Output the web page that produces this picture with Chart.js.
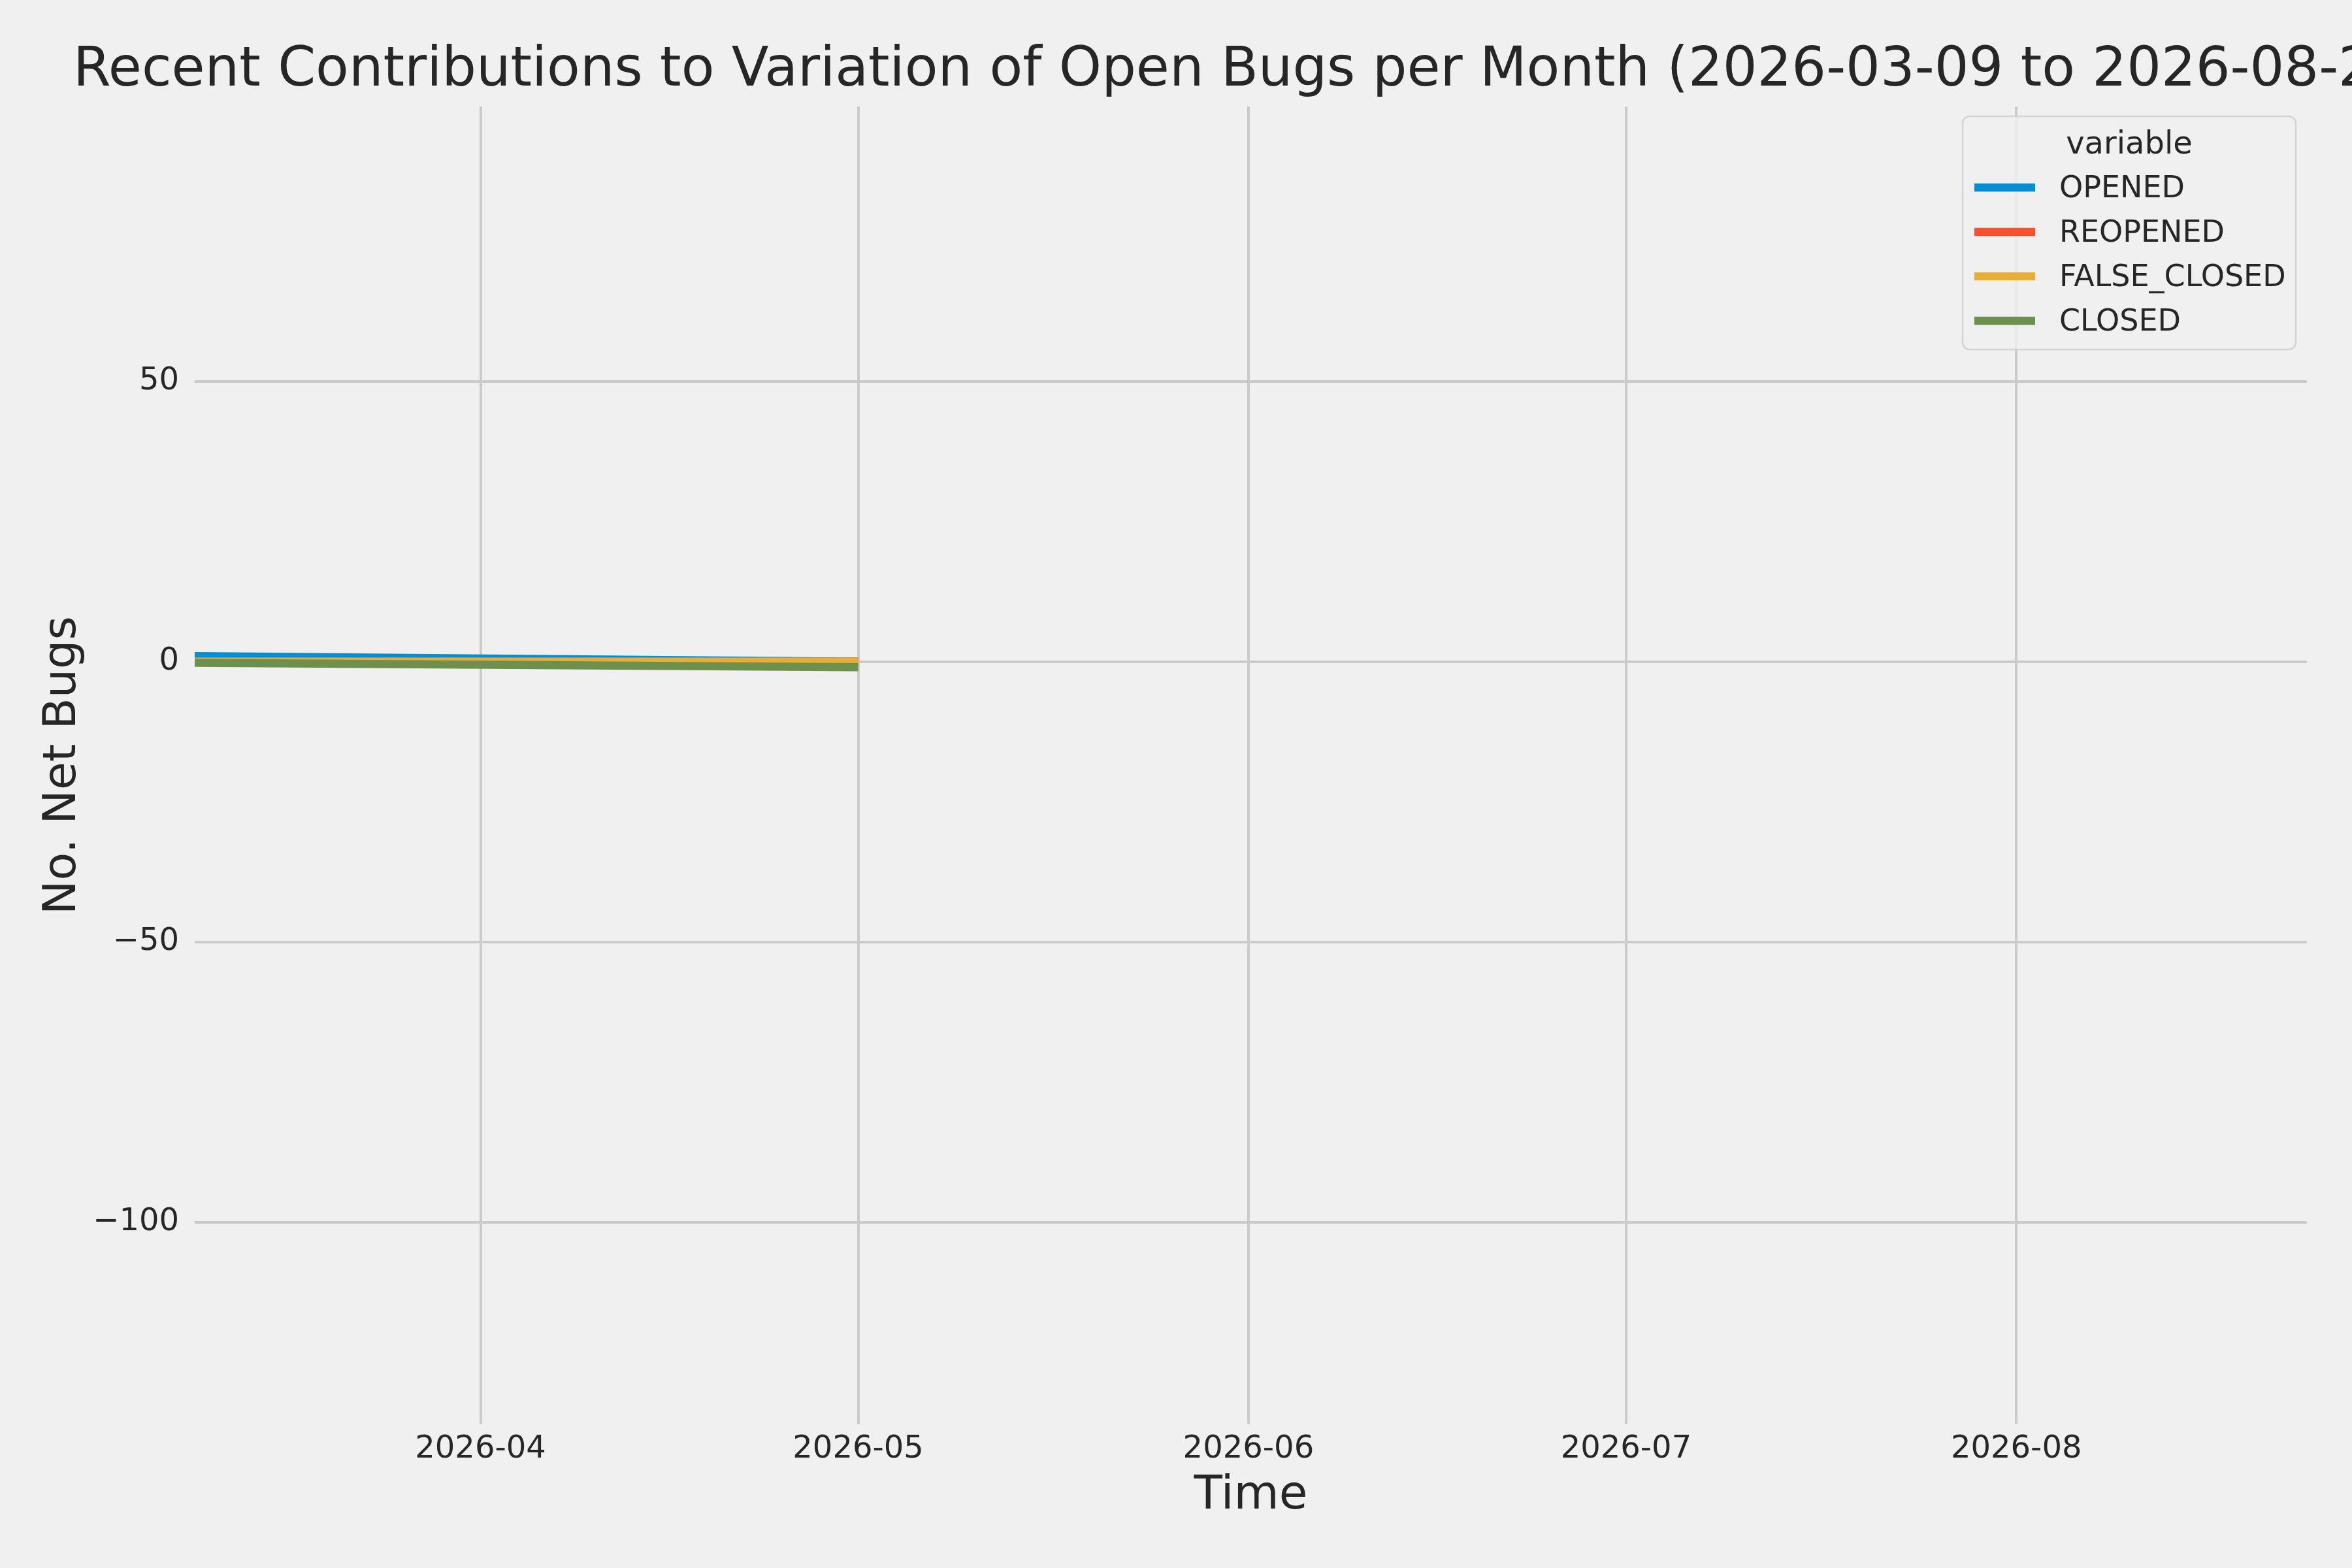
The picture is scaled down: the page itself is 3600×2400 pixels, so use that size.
<!DOCTYPE html>
<html><head><meta charset="utf-8">
<script src="https://cdn.jsdelivr.net/npm/chart.js@4/dist/chart.umd.min.js"></script>
<style>html,body{margin:0;padding:0;background:#f0f0f0;overflow:hidden;} canvas{display:block;}</style>
</head><body><canvas id="c" width="3600" height="2400"></canvas>
<script>
const titleText = 'Recent Contributions to Variation of Open Bugs per Month (2026-03-09 to 2026-08-24)';
const dates = ['2026-03-09T07:00:00Z', '2026-05-01T00:00:00Z'];
const seriesNames = ['OPENED', 'REOPENED', 'FALSE_CLOSED', 'CLOSED'];
const opened = [1, 0];
const reopened = [0, 0];
const falseClosed = [0, 0];
const closed = [-0.2, -1];
const seriesColors = ['#008fd5', '#fc4f30', '#e5ae38', '#6d904f'];
const xRange = ['2026-03-09T07:00:00Z', '2026-08-24T02:00:00Z'];
const xTickDates = ['2026-04-01T00:00:00Z', '2026-05-01T00:00:00Z', '2026-06-01T00:00:00Z', '2026-07-01T00:00:00Z', '2026-08-01T00:00:00Z'];
const xTickLabels = ['2026-04', '2026-05', '2026-06', '2026-07', '2026-08'];
const yTicks = [-100, -50, 0, 50];
const yRange = [-136, 99];
const legendTitle = 'variable';
const xTitle = 'Time';
const yTitle = 'No. Net Bugs';

const FONT = '"DejaVu Sans", "Liberation Sans", sans-serif';
const TEXT = '#262626';
const ms = s => Date.parse(s);
const seriesValues = [opened, reopened, falseClosed, closed];

const datasets = seriesNames.map((name, i) => ({
  label: name,
  data: dates.map((d, j) => ({x: ms(d), y: seriesValues[i][j]})),
  borderColor: seriesColors[i],
  backgroundColor: seriesColors[i],
  borderWidth: 12.5,
  borderCapStyle: 'butt',
  pointRadius: 0,
  tension: 0,
  fill: false,
  order: seriesNames.length - 1 - i
}));

const bgPlugin = {
  id: 'bg',
  beforeDraw(chart) {
    const ctx = chart.ctx;
    ctx.save();
    ctx.fillStyle = '#f0f0f0';
    ctx.fillRect(0, 0, chart.width, chart.height);
    ctx.restore();
  }
};

const titlePlugin = {
  id: 'mplTitle',
  afterDraw(chart) {
    const ctx = chart.ctx, a = chart.chartArea;
    ctx.save();
    ctx.font = '83px ' + FONT;
    ctx.fillStyle = TEXT;
    ctx.textAlign = 'center';
    ctx.textBaseline = 'alphabetic';
    ctx.fillText(titleText, (a.left + a.right) / 2, 131);
    ctx.restore();
  }
};

const legendPlugin = {
  id: 'mplLegend',
  afterDraw(chart) {
    const ctx = chart.ctx;
    const box = {x: 3004, y: 178, w: 510, h: 357, r: 11};
    ctx.save();
    ctx.beginPath();
    ctx.roundRect(box.x, box.y, box.w, box.h, box.r);
    ctx.fillStyle = 'rgba(240,240,240,0.8)';
    ctx.fill();
    ctx.lineWidth = 2.5;
    ctx.strokeStyle = '#d3d3d3';
    ctx.stroke();
    ctx.fillStyle = TEXT;
    ctx.font = '48px ' + FONT;
    ctx.textAlign = 'center';
    ctx.textBaseline = 'alphabetic';
    ctx.fillText(legendTitle, box.x + box.w / 2, 235);
    ctx.textAlign = 'left';
    ctx.font = '46px ' + FONT;
    chart.data.datasets.forEach((ds, i) => {
      const base = 302 + i * 68;
      const cy = base - 15;
      ctx.strokeStyle = ds.borderColor;
      ctx.lineWidth = 12.5;
      ctx.lineCap = 'butt';
      ctx.beginPath();
      ctx.moveTo(3022, cy);
      ctx.lineTo(3115, cy);
      ctx.stroke();
      ctx.fillStyle = TEXT;
      ctx.fillText(ds.label, 3152, base);
    });
    ctx.restore();
  }
};

const minus = v => (v < 0 ? '\u2212' + Math.abs(v) : String(v));

new Chart(document.getElementById('c'), {
  type: 'line',
  data: {datasets},
  plugins: [bgPlugin, titlePlugin, legendPlugin],
  options: {
    responsive: false,
    devicePixelRatio: 1,
    animation: false,
    events: [],
    layout: {padding: {top: 163, right: 69, left: 0, bottom: 0}},
    plugins: {
      legend: {display: false},
      title: {display: false},
      tooltip: {enabled: false}
    },
    scales: {
      x: {
        type: 'linear',
        min: ms(xRange[0]),
        max: ms(xRange[1]),
        afterBuildTicks(scale) {
          scale.ticks = xTickDates.map(d => ({value: ms(d)}));
        },
        afterFit(scale) { scale.height = 220; },
        grid: {color: '#cbcbcb', lineWidth: 4, drawTicks: false},
        border: {display: false},
        ticks: {
          autoSkip: false, maxRotation: 0, minRotation: 0, padding: 10,
          color: TEXT, font: {family: FONT, size: 48, lineHeight: 1.2},
          callback(v) { const k = xTickDates.findIndex(d => ms(d) === v); return k >= 0 ? xTickLabels[k] : ''; }
        },
        title: {display: true, text: xTitle, color: TEXT,
          font: {family: FONT, size: 71, lineHeight: 1}, padding: {top: 0, bottom: 74}}
      },
      y: {
        type: 'linear',
        min: yRange[0],
        max: yRange[1],
        afterBuildTicks(scale) {
          scale.ticks = yTicks.map(v => ({value: v}));
        },
        afterFit(scale) { scale.width = 298; },
        grid: {color: '#cbcbcb', lineWidth: 4, drawTicks: false},
        border: {display: false},
        ticks: {
          autoSkip: false, padding: 24, color: TEXT,
          font: {family: FONT, size: 48, lineHeight: 1.2},
          callback: v => minus(v)
        },
        title: {display: true, text: yTitle, color: TEXT,
          font: {family: FONT, size: 70, lineHeight: 1}, padding: {top: 62, bottom: 0}}
      }
    }
  }
});
</script>
</body></html>
